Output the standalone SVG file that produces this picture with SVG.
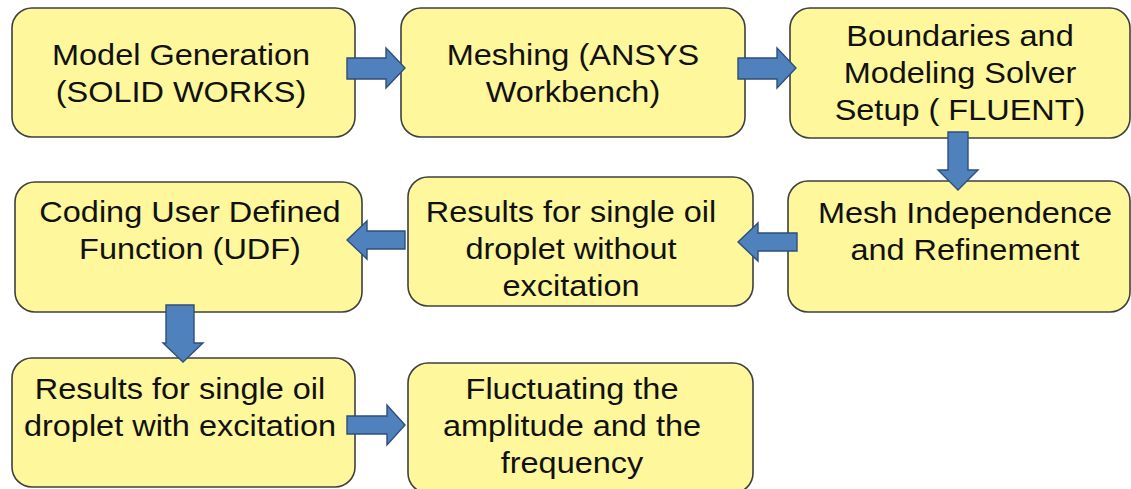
<svg xmlns="http://www.w3.org/2000/svg" width="1131" height="489" viewBox="0 0 1131 489">
<style>
.box{fill:#FEF79B;stroke:#3F3F3F;stroke-width:1.6}
.t{font-family:"Liberation Sans",Arial,sans-serif;font-size:29px;fill:#111;text-anchor:middle}
.arr{fill:#4F81BD;stroke:#2F4F7A;stroke-width:1.4;stroke-linejoin:miter}
</style>
<rect width="1131" height="489" fill="#fff"/>
<g id="n1"><rect class="box" x="12" y="8" width="343" height="129" rx="20"/>
<text class="t" transform="translate(181,0) scale(1.12,1)"><tspan x="0" y="65">Model Generation</tspan><tspan x="0" y="102">(SOLID WORKS)</tspan></text></g>
<g id="n2"><rect class="box" x="401" y="8" width="344" height="129" rx="20"/>
<text class="t" transform="translate(573,0) scale(1.12,1)"><tspan x="0" y="65">Meshing (ANSYS</tspan><tspan x="0" y="102">Workbench)</tspan></text></g>
<g id="n3"><rect class="box" x="790" y="8" width="340" height="130" rx="20"/>
<text class="t" transform="translate(960,0) scale(1.12,1)"><tspan x="0" y="46">Boundaries and</tspan><tspan x="0" y="83">Modeling Solver</tspan><tspan x="0" y="120">Setup ( FLUENT)</tspan></text></g>
<g id="n4"><rect class="box" x="15" y="182" width="347" height="130" rx="20"/>
<text class="t" transform="translate(190,0) scale(1.12,1)"><tspan x="0" y="222">Coding User Defined</tspan><tspan x="0" y="259">Function (UDF)</tspan></text></g>
<g id="n5"><rect class="box" x="408" y="177" width="345" height="129" rx="20"/>
<text class="t" transform="translate(571,0) scale(1.12,1)"><tspan x="0" y="222">Results for single oil</tspan><tspan x="0" y="259">droplet without</tspan><tspan x="0" y="296">excitation</tspan></text></g>
<g id="n6"><rect class="box" x="788" y="181" width="342" height="131" rx="20"/>
<text class="t" transform="translate(965,0) scale(1.12,1)"><tspan x="0" y="223">Mesh Independence</tspan><tspan x="0" y="260">and Refinement</tspan></text></g>
<g id="n7"><rect class="box" x="12" y="358" width="343" height="129" rx="20"/>
<text class="t" transform="translate(180,0) scale(1.12,1)"><tspan x="0" y="399">Results for single oil</tspan><tspan x="0" y="436">droplet with excitation</tspan></text></g>
<g id="n8"><rect class="box" x="408" y="363" width="345" height="130" rx="20"/>
<text class="t" transform="translate(572,0) scale(1.12,1)"><tspan x="0" y="399">Fluctuating the</tspan><tspan x="0" y="436">amplitude and the</tspan><tspan x="0" y="473">frequency</tspan></text></g>
<g id="connectors">
<polygon class="arr" points="347,58 386,58 386,48 405,68 386,88 386,79 347,79"/>
<polygon class="arr" points="738,58 777,58 777,48 796,68 777,88 777,79 738,79"/>
<polygon class="arr" points="948,132 968,132 968,170 978,170 958,190 938,170 948,170"/>
<polygon class="arr" points="797,233 758,233 758,223 738,242 758,261 758,251 797,251"/>
<polygon class="arr" points="405,231 367,231 367,221 347,240 367,259 367,249 405,249"/>
<polygon class="arr" points="166,305 194,305 194,343 203,343 183,362 163,343 166,343"/>
<polygon class="arr" points="347,416 387,416 387,405 405,425 387,445 387,434 347,434"/>
</g>
</svg>
